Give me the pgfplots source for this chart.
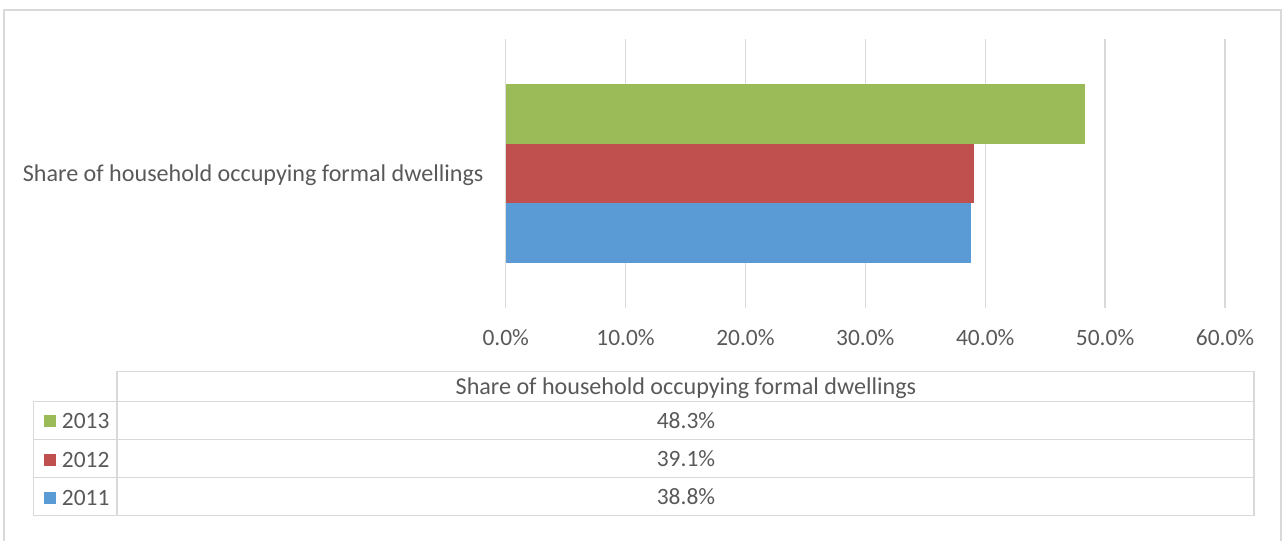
\documentclass[border=0pt]{standalone}
\usepackage{pgfplots}
\pgfplotsset{compat=1.18}
\usepackage{fontspec}
\setmainfont{Carlito}
\definecolor{cgreen}{HTML}{9BBB59}
\definecolor{cred}{HTML}{C0504D}
\definecolor{cblue}{HTML}{5B9BD5}
\definecolor{ctext}{HTML}{595959}
\definecolor{cgrid}{HTML}{D9D9D9}
\newcommand{\fs}{\fontsize{23.5}{28}\selectfont}
\newcommand{\fw}{\fontsize{24.2}{29}\selectfont}
\begin{document}
\begin{tikzpicture}
\useasboundingbox (0,0) rectangle (1284bp,-541bp);
\begin{axis}[
  at={(505.7bp,-307.7bp)}, anchor=south west,
  scale only axis, width=719.3bp, height=268.7bp,
  xbar, bar width=59.5bp,
  xmin=0, xmax=60, ymin=-2.26, ymax=2.26,
  xtick={0,10,20,30,40,50,60},
  xticklabels={0.0\%,10.0\%,20.0\%,30.0\%,40.0\%,50.0\%,60.0\%},
  ytick={0}, yticklabels={Share of household occupying formal dwellings},
  axis line style={draw=none},
  major tick length=0pt,
  xmajorgrids, major grid style={cgrid, line width=1.3bp},
  tick label style={text=ctext, font=\fs},
  xticklabel style={inner sep=0pt, anchor=base, yshift=-38bp},
  yticklabel style={inner sep=0pt, anchor=base east, xshift=-22bp, yshift=-8.3bp, font=\fw},
  legend style={draw=none, fill=none, inner sep=0pt, font=\fs, text=ctext,
    at={(axis description cs:-0.6422,-0.5655)}, anchor=west,
    row sep=23.5bp,
    nodes={inner sep=0pt, text height=15bp, text depth=0bp}},
  legend cell align=left,
  reverse legend,
  legend image code/.code={\fill[#1] (0bp,-6bp) rectangle (12.5bp,6bp); \path (18bp,0bp);},
]
\addplot[fill=cblue, draw=none, bar shift=-59.5bp] coordinates {(38.8,0)};
\addplot[fill=cred, draw=none, bar shift=0bp] coordinates {(39.1,0)};
\addplot[fill=cgreen, draw=none, bar shift=59.5bp] coordinates {(48.3,0)};
\legend{2011,2012,2013}
\end{axis}
\begin{scope}[x=1bp,y=-1bp]
  % outer chart border
  \draw[cgrid, line width=2bp] (4.5,545) -- (4.5,10) -- (1281,10) -- (1281,545);
  % data table
  \draw[cgrid, line width=1.3bp] (117,371.7) rectangle (1254,401.3);
  \draw[cgrid, line width=1.3bp] (33.7,401.3) rectangle (1254,515.7);
  \draw[cgrid, line width=1.3bp] (33.7,439.3) -- (1254,439.3);
  \draw[cgrid, line width=1.3bp] (33.7,477.7) -- (1254,477.7);
  \draw[cgrid, line width=1.3bp] (117,401.3) -- (117,515.7);
  \node[text=ctext, font=\fw, inner sep=0pt, anchor=base] at (686,394) {Share of household occupying formal dwellings};
  \node[text=ctext, font=\fs, inner sep=0pt, anchor=base] at (686,428.3) {48.3\%};
  \node[text=ctext, font=\fs, inner sep=0pt, anchor=base] at (686,466.7) {39.1\%};
  \node[text=ctext, font=\fs, inner sep=0pt, anchor=base] at (686,504.3) {38.8\%};
\end{scope}
\end{tikzpicture}
\end{document}
